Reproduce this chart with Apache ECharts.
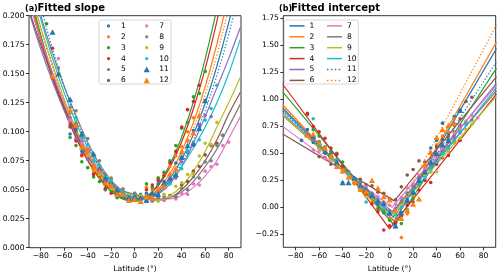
<!DOCTYPE html>
<html><head><meta charset="utf-8">
<script src="https://cdn.jsdelivr.net/npm/echarts@6/dist/echarts.min.js"></script>
<style>html,body{margin:0;padding:0;background:#fff}#c{width:500px;height:278px}</style>
</head><body><div id="c"></div>
<script>
const _ = null;
const SERIES_NAMES = ['1','2','3','4','5','6','7','8','9','10','11','12'];
const COLORS = ['#1f77b4','#ff7f0e','#2ca02c','#d62728','#9467bd','#8c564b','#e377c2','#7f7f7f','#bcbd22','#17becf','#1f77b4','#ff7f0e'];
const X_TICKS = [-80,-60,-40,-20,0,20,40,60,80];
const Y_TICKS_A = [0,0.025,0.05,0.075,0.1,0.125,0.15,0.175,0.2];
const Y_TICKS_B = [-0.25,0,0.25,0.5,0.75,1.0,1.25,1.5,1.75];

// latitudes of fitted curves (panel a)
const LAT_CURVE = [-90,-80,-70,-60,-50,-40,-30,-20,-10,0,10,20,30,40,50,60,70,80,90];
// latitudes of the scatter points (both panels)
const LAT_PTS = [-75,-70,-65,-60,-55,-50,-45,-40,-35,-30,-25,-20,-15,-10,-5,0,5,10,15,20,25,30,35,40,45,50,55,60,65,70,75,80];

// panel (a) fitted slope curves
const slopeCurve1 = [.2143,.1796,.1488,.1219,.0989,.0798,.0645,.0532,.0458,.0424,.0430,.0487,.0598,.0761,.0977,.1245,.1566,.1939,.2365];
const slopeCurve2 = [.2187,.1822,.1499,.1217,.0978,.0780,.0625,.0512,.0440,.0411,.0429,.0504,.0638,.0830,.1080,.1389,.1756,.2180,.2664];
const slopeCurve3 = [.2222,.1835,.1495,.1201,.0952,.0750,.0593,.0483,.0419,.0400,.0440,.0546,.0717,.0955,.1258,.1628,.2064,.2565,.3133];
const slopeCurve4 = [.2150,.1786,.1464,.1184,.0948,.0754,.0604,.0496,.0432,.0410,.0442,.0536,.0694,.0914,.1198,.1544,.1954,.2426,.2960];
const slopeCurve5 = [.2033,.1714,.1431,.1182,.0969,.0790,.0647,.0538,.0465,.0430,.0420,.0460,.0550,.0700,.0900,.1130,.1380,.1630,.1900];
const slopeCurve6 = [.2050,.1750,.1470,.1210,.0990,.0800,.0650,.0540,.0470,.0440,.0420,.0410,.0430,.0500,.0610,.0750,.0930,.1150,.1340];
const slopeCurve7 = [.2120,.1800,.1510,.1250,.1020,.0830,.0670,.0560,.0490,.0460,.0430,.0420,.0420,.0450,.0520,.0620,.0750,.0940,.1130];
const slopeCurve8 = [.2360,.2000,.1680,.1390,.1140,.0910,.0720,.0580,.0490,.0460,.0430,.0420,.0430,.0480,.0570,.0700,.0850,.1040,.1240];
const slopeCurve9 = [.2250,.1900,.1580,.1280,.1020,.0810,.0650,.0530,.0460,.0440,.0420,.0410,.0450,.0530,.0660,.0830,.1040,.1250,.1470];
const slopeCurve10 = [.2355,.1973,.1633,.1335,.1079,.0864,.0692,.0562,.0474,.0430,.0420,.0470,.0570,.0700,.0860,.1040,.1250,.1500,.1800];
const slopeCurve11 = [.2496,.2082,.1714,.1392,.1116,.0886,.0702,.0564,.0472,.0426,.0426,.0477,.0578,.0729,.0930,.1182,.1485,.1838,.2241];
const slopeCurve12 = [.2270,.1891,.1556,.1263,.1014,.0808,.0644,.0524,.0446,.0412,.0424,.0491,.0613,.0792,.1026,.1316,.1662,.2064,.2522];

// panel (a) scatter points, aligned with LAT_PTS
const slopePts1 = [_,_,_,_,.098,.103,.083,.085,.064,.068,.054,.055,.046,.047,.046,.041,.045,.047,.043,.055,.057,.056,.073,.078,.082,.101,.106,_,_,_,_,_];
const slopePts2 = [_,_,_,_,.117,.093,.079,.082,.066,.061,.050,.053,.044,.046,.040,.043,.044,.052,.050,.060,.063,.070,.079,.087,.100,.112,_,_,_,_,_,_];
const slopePts3 = [.193,_,_,_,.095,.088,.074,.069,.061,.057,.050,.049,.043,.044,.041,.042,.046,.055,.052,.060,.065,.075,.088,.103,.108,.130,.133,.152,_,_,_,_];
const slopePts4 = [_,.172,_,_,.104,.092,.080,.078,.063,.062,.051,.047,.045,.045,.042,.044,.045,.050,.054,.058,.062,.073,.083,.104,.119,.126,.140,_,_,_,_,_];
const slopePts5 = [_,_,_,_,.112,.094,.092,.076,.074,.063,.057,.056,.048,.045,.046,.042,.044,.041,.045,.048,.053,.058,.060,.074,.083,.088,.105,.114,.113,_,_,_];
const slopePts6 = [_,_,_,_,.106,.101,.086,.083,.070,.067,.057,.055,.049,.048,.044,.046,.042,.044,.040,.043,.041,.045,.044,.054,.057,.066,.070,.080,.088,.090,.097,_];
const slopePts7 = [_,_,.163,_,.110,.105,.090,.086,.073,.069,.059,.058,.050,.051,.045,.047,.043,.044,.040,.043,.041,.044,.042,.047,.046,.055,.054,.066,.070,.072,.088,.091];
const slopePts8 = [_,_,.155,_,.121,.118,.099,.094,.079,.075,.063,.060,.051,.050,.046,.047,.043,.045,.041,.043,.044,.044,.044,.051,.050,.061,.060,.074,.075,.088,.097,_];
const slopePts9 = [_,_,_,_,_,.108,.094,.079,.075,.063,.060,.051,.050,.045,.046,.043,.045,.041,.043,.040,.046,.044,.053,.056,.063,.064,.079,.090,.089,.108,_,_];
const slopePts10 = [_,_,_,_,.116,.112,.095,.089,.075,.071,.060,.058,.049,.048,.044,.045,.041,.043,.046,.045,.054,.055,.067,.068,.083,.089,.093,.110,.120,.140,_,_];
const slopePts11 = [_,.186,.150,_,.128,.107,.098,.084,.081,.068,.060,.054,.050,.045,.043,.044,.043,.041,.047,.046,.056,.060,.063,.078,.088,.090,.103,.127,_,_,_,_];
const slopePts12 = [_,.148,_,_,.118,.106,.087,.084,.070,.066,.056,.054,.046,.046,.041,.042,.040,.044,.043,.051,.053,.064,.068,.083,.093,.099,.114,_,_,_,_,_];

// panel (b) fitted intercept lines: value at left edge, break latitude, break value, value at right edge
const INT_EDGE_LAT = [-91, 91];
const interLeft = [.92,.95,1.07,1.14,.87,.68,.75,.85,.86,.90,.89,.93];
const interBreakLat = [4,3,4,0,2,4,2,2,2,3,5,3];
const interBreakVal = [-.13,-.15,-.17,-.20,-.06,.06,.00,-.04,-.07,-.09,-.10,-.11];
const interRight = [1.47,1.53,1.29,1.05,1.15,1.21,1.13,1.08,1.03,1.11,1.35,1.69];

// panel (b) scatter points, aligned with LAT_PTS
const interPts1 = [.62,.72,.60,.61,.50,.50,.40,.33,.31,.22,.20,.12,.10,.03,-.05,-.06,-.15,-.05,.05,.15,.28,.38,.55,.62,.78,.69,.84,.90,_,_,_,_];
const interPts2 = [_,.68,.66,.58,.55,.46,.44,.35,.30,.22,.18,.12,.05,-.03,-.02,-.10,-.12,-.28,-.06,.10,.20,.36,.50,.58,.66,.70,.82,_,_,_,_,_];
const interPts3 = [_,.86,.72,.66,.56,.52,.50,.42,.31,.26,.23,.13,.09,-.01,-.04,-.12,-.18,-.15,-.02,.08,.21,.29,.33,.48,.50,.63,.70,.73,_,_,_,_];
const interPts4 = [_,.87,.75,.70,.64,.55,.49,.38,.33,.26,.16,.11,.03,-.04,-.21,-.17,-.14,-.08,.02,.05,.16,.25,.23,.40,.46,.48,.60,.62,_,_,_,_];
const interPts5 = [_,_,.64,.55,.53,.45,.43,.35,.32,.25,.22,.15,.12,.05,.02,-.05,-.04,.06,.10,.20,.24,.34,.38,.48,.52,.62,.66,.76,.79,_,_,_];
const interPts6 = [_,_,_,.47,.46,.40,.39,.34,.33,.27,.26,.21,.20,.14,.13,.08,.07,.19,.30,.35,.43,.42,.50,.56,.63,.66,.76,.82,.98,1.02,_,_];
const interPts7 = [_,_,.53,.52,.45,.43,.37,.35,.29,.27,.21,.19,.13,.10,.05,.02,.03,.09,.18,.22,.30,.35,.43,.47,.56,.60,.69,.73,.80,.85,.83,_];
const interPts8 = [_,_,.62,.55,.52,.45,.42,.35,.32,.26,.23,.16,.13,.07,.03,-.03,-.01,.05,.13,.18,.26,.30,.39,.43,.52,.56,.64,.69,.77,.81,_,_];
const interPts9 = [_,_,_,.54,.52,.44,.41,.34,.30,.24,.20,.10,.09,.06,-.01,-.06,-.04,.02,.09,.15,.22,.30,.33,.33,.47,.52,.60,.64,.72,.77,_,_];
const interPts10 = [_,_,.82,.57,.54,.47,.44,.23,.31,.27,.20,.05,.10,.05,-.01,-.06,-.07,.00,.08,.15,.22,.27,.36,.42,.50,.55,.62,.70,.77,_,_,_];
const interPts11 = [_,.68,.66,.60,.52,.49,.42,.23,.23,.27,.20,.17,.11,.06,.04,-.05,-.17,-.05,.07,.14,.25,.33,.42,.50,.58,.62,.78,.90,_,_,_,_];
const interPts12 = [_,.67,.68,.60,.55,.48,.38,.34,.28,.24,.17,.15,.25,.18,.10,.07,-.03,-.10,-.03,.03,.08,.40,.51,.65,.72,.76,.78,_,_,_,_,_];

const SLOPE_CURVES = [slopeCurve1,slopeCurve2,slopeCurve3,slopeCurve4,slopeCurve5,slopeCurve6,slopeCurve7,slopeCurve8,slopeCurve9,slopeCurve10,slopeCurve11,slopeCurve12];
const SLOPE_PTS = [slopePts1,slopePts2,slopePts3,slopePts4,slopePts5,slopePts6,slopePts7,slopePts8,slopePts9,slopePts10,slopePts11,slopePts12];
const INTER_PTS = [interPts1,interPts2,interPts3,interPts4,interPts5,interPts6,interPts7,interPts8,interPts9,interPts10,interPts11,interPts12];

const FONT = '"DejaVu Sans", sans-serif';
const FS = 7.6;
const DOT_ICON = 'path://M0,0M15,7M5.9,3.5a1.6,1.6 0 1,0 3.2,0a1.6,1.6 0 1,0 -3.2,0z';
const TRI_ICON = 'path://M0,0M15,7M7.5,0.6L10.6,6.3L4.4,6.3z';
const LINE_ICON = 'path://M0,0M15,7M0,2.75h15v1.5h-15z';
const DOTLINE_ICON = 'path://M0,0M15,7M0,2.75h1.5v1.5h-1.5zM3.9,2.75h1.5v1.5h-1.5zM7.8,2.75h1.5v1.5h-1.5zM11.7,2.75h1.5v1.5h-1.5z';

const minus = s => s.replace('-', '\u2212');
const fmtX = v => minus(String(v));

function pairs(lats, vals) {
  const out = [];
  lats.forEach((x, j) => { if (vals[j] !== null && vals[j] !== undefined) out.push([x, vals[j]]); });
  return out;
}

function xAxis(gi, min, max) {
  return {
    type: 'value', gridIndex: gi, min, max, position: 'bottom',
    name: 'Latitude (\u00b0)', nameLocation: 'middle', nameGap: 14,
    nameTextStyle: {fontFamily: FONT, fontSize: FS, color: '#000'},
    axisLine: {show: false, onZero: false}, splitLine: {show: false},
    axisTick: {show: true, inside: false, length: 3, lineStyle: {color: '#000', width: 0.8}, customValues: X_TICKS},
    axisLabel: {show: true, margin: 4.5, fontFamily: FONT, fontSize: FS, color: '#000', customValues: X_TICKS, formatter: fmtX}
  };
}
function yAxis(gi, min, max, ticks, dec) {
  return {
    type: 'value', gridIndex: gi, min, max, position: 'left',
    axisLine: {show: false, onZero: false}, splitLine: {show: false},
    axisTick: {show: true, inside: false, length: 3, lineStyle: {color: '#000', width: 0.8}, customValues: ticks},
    axisLabel: {show: true, margin: 4.5, fontFamily: FONT, fontSize: FS, color: '#000', customValues: ticks,
      formatter: v => minus(Number(v).toFixed(dec))}
  };
}

const series = [];
for (let i = 0; i < 12; i++) {
  const tri = i >= 10;
  series.push({
    type: 'line', name: 'a' + SERIES_NAMES[i], xAxisIndex: 0, yAxisIndex: 0,
    data: pairs(LAT_CURVE, SLOPE_CURVES[i]), smooth: 0.35, symbol: 'none', silent: true,
    lineStyle: {color: COLORS[i], width: 1.2, type: tri ? [1.3, 2] : 'solid'},
    itemStyle: {color: COLORS[i]}, z: 2
  });
  series.push({
    type: 'scatter', name: 'L' + SERIES_NAMES[i], xAxisIndex: 0, yAxisIndex: 0,
    data: pairs(LAT_PTS, SLOPE_PTS[i]), symbol: tri ? 'triangle' : 'circle', symbolSize: tri ? [6, 5.5] : 3.6,
    itemStyle: {color: COLORS[i], opacity: 1}, z: 3, silent: true
  });
  series.push({
    type: 'line', name: 'R' + SERIES_NAMES[i], xAxisIndex: 1, yAxisIndex: 1,
    data: [[INT_EDGE_LAT[0], interLeft[i]], [interBreakLat[i], interBreakVal[i]], [INT_EDGE_LAT[1], interRight[i]]],
    symbol: 'none', silent: true,
    lineStyle: {color: COLORS[i], width: 1.2, type: tri ? [1.3, 2] : 'solid'},
    itemStyle: {color: COLORS[i]}, z: 2
  });
  series.push({
    type: 'scatter', name: 'b' + SERIES_NAMES[i], xAxisIndex: 1, yAxisIndex: 1,
    data: pairs(LAT_PTS, INTER_PTS[i]), symbol: tri ? 'triangle' : 'circle', symbolSize: tri ? [6, 5.5] : 3.6,
    itemStyle: {color: COLORS[i], opacity: 1}, z: 3, silent: true
  });
}

function legend(prefix, idxs, left, iconFn) {
  return {
    show: true, orient: 'vertical', left, top: 21.9, padding: 0, itemGap: 2.9,
    itemWidth: 15, itemHeight: 7, selectedMode: false, z: 6,
    textStyle: {fontFamily: FONT, fontSize: FS, color: '#000'},
    formatter: n => n.slice(1),
    data: idxs.map(i => ({name: prefix + SERIES_NAMES[i], icon: iconFn(i)}))
  };
}
const ptIcon = i => i >= 10 ? TRI_ICON : DOT_ICON;
const lnIcon = i => i >= 10 ? DOTLINE_ICON : LINE_ICON;

const option = {
  animation: false,
  backgroundColor: '#fff',
  grid: [
    {left: 29, top: 15.7, width: 212, height: 232, show: true, borderColor: '#000', borderWidth: 0.8, backgroundColor: 'transparent', containLabel: false, outerBoundsMode: 'none'},
    {left: 283.3, top: 15.7, width: 212.4, height: 231.6, show: true, borderColor: '#000', borderWidth: 0.8, backgroundColor: 'transparent', containLabel: false, outerBoundsMode: 'none'}
  ],
  xAxis: [xAxis(0, -90, 90.5), xAxis(1, -90.5, 90.3)],
  yAxis: [yAxis(0, 0, 0.2, Y_TICKS_A, 3), yAxis(1, -0.37, 1.775, Y_TICKS_B, 2)],
  legend: [
    legend('L', [0,1,2,3,4,5], 101, ptIcon),
    legend('L', [6,7,8,9,10,11], 139.2, ptIcon),
    legend('R', [0,1,2,3,4,5], 289.5, lnIcon),
    legend('R', [6,7,8,9,10,11], 327, lnIcon)
  ],
  graphic: {elements: [
    {type: 'rect', z: 5, shape: {x: 99, y: 20, width: 72, height: 64, r: 2}, style: {fill: 'rgba(255,255,255,0.8)', stroke: '#cccccc', lineWidth: 0.8}},
    {type: 'rect', z: 5, shape: {x: 284.3, y: 20, width: 74, height: 64, r: 2}, style: {fill: 'rgba(255,255,255,0.8)', stroke: '#cccccc', lineWidth: 0.8}},
    {type: 'text', z: 6, x: 25, y: 8.5, style: {text: '(a)', font: 'bold 8px "DejaVu Sans"', fill: '#000', verticalAlign: 'middle', textVerticalAlign: 'middle'}},
    {type: 'text', z: 6, x: 37.5, y: 8.5, style: {text: 'Fitted slope', font: 'bold 10px "DejaVu Sans"', fill: '#000', verticalAlign: 'middle', textVerticalAlign: 'middle'}},
    {type: 'text', z: 6, x: 279, y: 8.5, style: {text: '(b)', font: 'bold 8px "DejaVu Sans"', fill: '#000', verticalAlign: 'middle', textVerticalAlign: 'middle'}},
    {type: 'text', z: 6, x: 291, y: 8.5, style: {text: 'Fitted intercept', font: 'bold 10px "DejaVu Sans"', fill: '#000', verticalAlign: 'middle', textVerticalAlign: 'middle'}}
  ]},
  series
};
const chart = echarts.init(document.getElementById('c'), null, {renderer: 'canvas', width: 500, height: 278});
chart.setOption(option);
</script></body></html>
